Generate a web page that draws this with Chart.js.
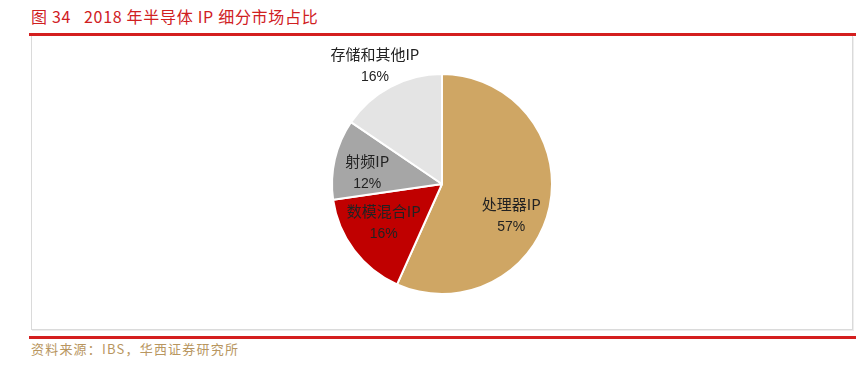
<!DOCTYPE html>
<html>
<head>
<meta charset="utf-8">
<script src="https://cdn.jsdelivr.net/npm/chart.js@4/dist/chart.umd.min.js"></script>
<style>
  html, body { margin: 0; padding: 0; background: #fff; }
  body { width: 856px; height: 367px; position: relative; overflow: hidden; font-family: "Noto Sans CJK SC", sans-serif; }
  #title { position: absolute; left: 31px; top: 4px; font-size: 16px; color: #D0201F; white-space: pre; letter-spacing: 0.7px; }
  #topline { position: absolute; left: 29px; top: 33px; width: 827px; height: 3px; background: #D41F1F; }
  #box { position: absolute; left: 31px; top: 36px; width: 820px; height: 293px; border: 1px solid #DADADA; border-top: none; box-shadow: 1px 1px 0 #EEE; }
  #botline { position: absolute; left: 29px; top: 336px; width: 827px; height: 3px; background: #D41F1F; }
  #source { position: absolute; left: 31px; top: 339px; font-size: 13px; color: #B89660; letter-spacing: 1.2px; }
</style>
</head>
<body>
<div id="title">图 34   2018 年半导体 IP 细分市场占比</div>
<div id="topline"></div>
<div id="box"><canvas id="c" width="820" height="293"></canvas></div>
<div id="botline"></div>
<div id="source">资料来源：IBS，华西证券研究所</div>
<script>
const categories = ["处理器IP", "数模混合IP", "射频IP", "存储和其他IP"];
const values = [56.7, 16.0, 11.8, 15.5];
const percentLabels = ["57%", "16%", "12%", "16%"];
const colors = ["#CFA664", "#C00000", "#A6A6A6", "#E4E4E4"];

// label anchor offsets, as fractions of the outer radius from the pie centre
const labelOffsets = [[0.63, 0.28], [-0.53, 0.35], [-0.68, -0.11], [-0.61, -1.08]];

const labelPlugin = {
  id: 'sliceLabels',
  afterDatasetsDraw(chart) {
    const ctx = chart.ctx;
    const meta = chart.getDatasetMeta(0);
    ctx.save();
    ctx.textAlign = 'center';
    ctx.textBaseline = 'middle';
    ctx.fillStyle = '#222';
    meta.data.forEach((arc, i) => {
      const p = arc.getProps(['x', 'y', 'outerRadius'], true);
      const lx = p.x + labelOffsets[i][0] * p.outerRadius;
      const ly = p.y + labelOffsets[i][1] * p.outerRadius;
      ctx.font = '15px "Noto Sans CJK SC", sans-serif';
      ctx.fillText(categories[i], lx, ly - 11);
      ctx.font = '14px "Liberation Sans Narrow", "Liberation Sans", sans-serif';
      ctx.fillText(percentLabels[i], lx, ly + 12);
    });
    ctx.restore();
  }
};

new Chart(document.getElementById('c'), {
  type: 'pie',
  data: {
    labels: categories,
    datasets: [{
      data: values,
      backgroundColor: colors,
      borderColor: '#fff',
      borderWidth: 2
    }]
  },
  options: {
    responsive: false,
    animation: false,
    layout: { padding: { top: 37, bottom: 34, left: 0, right: 0 } },
    plugins: { legend: { display: false }, tooltip: { enabled: false } }
  },
  plugins: [labelPlugin]
});
</script>
</body>
</html>
